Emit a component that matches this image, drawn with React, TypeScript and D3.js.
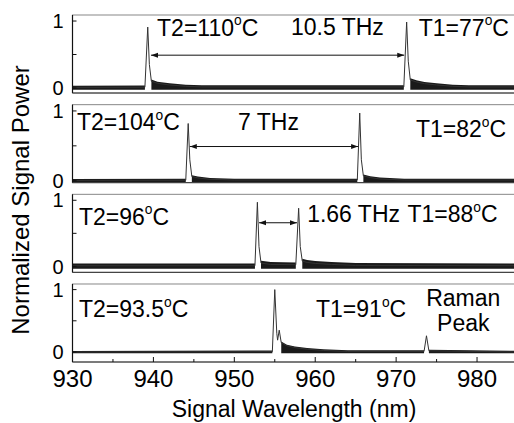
import React from 'react';
import * as d3 from 'd3';

// wavelength axis
const xTicks = [930, 940, 950, 960, 970, 980];
const xMinorTicks = [935, 945, 955, 965, 975];
const yTicks = [0, 0.5, 1];
const yTickLabels = [0, 1];

// bottom of each panel's y domain (top is shared)
const panelYMin = [-0.075, -0.028, -0.09, -0.16];
const panelYMax = 1.09;
const noiseAmp = [0.025, 0.02, 0.035, 0.018];

// spectra, [wavelength nm, normalized power]
const spectrum1 = [[930, 0.01], [938.95, 0.012], [939.3, 0.91], [939.5, 0.35], [939.75, 0.1], [940.5, 0.07], [942, 0.045], [944, 0.025], [946, 0.015], [970.95, 0.015], [971.3, 0.985], [971.5, 0.4], [971.75, 0.12], [972.5, 0.09], [973.5, 0.065], [975, 0.045], [977, 0.025], [979, 0.015], [985, 0.015]];
const spectrum2 = [[930, 0.005], [944.0, 0.008], [944.3, 0.82], [944.5, 0.3], [944.75, 0.06], [945.5, 0.04], [947, 0.02], [950, 0.01], [965.2, 0.01], [965.5, 0.97], [965.7, 0.3], [965.95, 0.07], [966.8, 0.045], [968, 0.025], [971, 0.01], [985, 0.01]];
const spectrum3 = [[930, 0.01], [952.55, 0.01], [952.85, 0.97], [953.05, 0.3], [953.3, 0.05], [954.5, 0.03], [957.6, 0.025], [957.95, 0.88], [958.15, 0.3], [958.4, 0.08], [959, 0.06], [960, 0.045], [962, 0.03], [965, 0.015], [985, 0.01]];
const spectrum4 = [[930, 0.0], [954.7, 0.005], [955.0, 1.0], [955.25, 0.3], [955.35, 0.19], [955.55, 0.35], [955.8, 0.15], [956.5, 0.1], [957.5, 0.07], [959, 0.045], [961, 0.025], [964, 0.01], [973.45, 0.01], [973.75, 0.26], [974.05, 0.02], [985, 0.0]];
const spectra = [spectrum1, spectrum2, spectrum3, spectrum4];

// frequency spacing arrows
const arrows = [
  { panel: 0, from: 939.7, to: 971.0, y: 0.49 },
  { panel: 1, from: 944.5, to: 965.3, y: 0.49 },
  { panel: 2, from: 953.05, to: 957.75, y: 0.66 },
];

const labels = [
  { panel: 0, x: 940.45, y: 0.78, text: 'T2=110°C', anchor: 'start' },
  { panel: 0, x: 957.0, y: 0.79, text: '10.5 THz', anchor: 'start' },
  { panel: 0, x: 972.8, y: 0.78, text: 'T1=77°C', anchor: 'start' },
  { panel: 1, x: 930.55, y: 0.72, text: 'T2=104°C', anchor: 'start' },
  { panel: 1, x: 950.45, y: 0.72, text: '7 THz', anchor: 'start' },
  { panel: 1, x: 972.45, y: 0.62, text: 'T1=82°C', anchor: 'start' },
  { panel: 2, x: 930.8, y: 0.63, text: 'T2=96°C', anchor: 'start' },
  { panel: 2, x: 959.0, y: 0.67, text: '1.66 THz', anchor: 'start' },
  { panel: 2, x: 971.4, y: 0.67, text: 'T1=88°C', anchor: 'start' },
  { panel: 3, x: 930.8, y: 0.56, text: 'T2=93.5°C', anchor: 'start' },
  { panel: 3, x: 960.1, y: 0.56, text: 'T1=91°C', anchor: 'start' },
  { panel: 3, x: 978.3, y: 0.73, text: 'Raman', anchor: 'middle' },
  { panel: 3, x: 978.3, y: 0.34, text: 'Peak', anchor: 'middle' },
];

const W = 514;
const H = 423;
const FONT = '"Liberation Sans", Arial, Helvetica, sans-serif';

function Label({ x, y, text, anchor, size }) {
  const parts = text.split('°');
  if (parts.length === 1) {
    return <text x={x} y={y} textAnchor={anchor} fontSize={size}>{text}</text>;
  }
  return (
    <text x={x} y={y} textAnchor={anchor} fontSize={size}>
      {parts[0]}
      <tspan fontSize={size * 0.6} dy={-size * 0.45}>o</tspan>
      <tspan dy={size * 0.45}>{parts[1]}</tspan>
    </text>
  );
}

export default function App() {
  const x = d3.scaleLinear().domain([930, 985]).range([72.5, 517.5]);
  const band = d3.scaleBand().domain(d3.range(4)).range([15, 362]).paddingInner(0.13);
  const yScales = panelYMin.map((lo, i) =>
    d3.scaleLinear().domain([lo, panelYMax]).range([band(i) + band.bandwidth(), band(i)])
  );
  const plotRight = x.range()[1];

  return (
    <svg width={W} height={H} style={{ position: 'absolute', left: 0, top: 0, background: '#fff' }} fontFamily={FONT}>
      <defs>
        <marker id="ah" viewBox="0 0 10 10" refX="10" refY="5" markerWidth="7" markerHeight="7" orient="auto-start-reverse" markerUnits="userSpaceOnUse">
          <path d="M0,1.5 L10,5 L0,8.5 Z" fill="#111" />
        </marker>
      </defs>
      <rect width={W} height={H} fill="#fff" />

      {spectra.map((data, i) => {
        const y = yScales[i];
        const top = band(i);
        const bottom = top + band.bandwidth();
        const line = d3.line().x(d => x(d[0])).y(d => y(d[1]));
        const noise = d3.area()
          .defined(d => d[1] < 0.2)
          .x(d => x(d[0]))
          .y0(() => y(-noiseAmp[i]))
          .y1(d => y(d[1] + noiseAmp[i]));
        return (
          <g key={i}>
            <clipPath id={`clip${i}`}>
              <rect x={x(930)} y={top} width={plotRight - x(930)} height={band.bandwidth()} />
            </clipPath>
            <g clipPath={`url(#clip${i})`}>
              <path d={noise(data)} fill="#1a1a1a" />
              <path d={line(data)} fill="none" stroke="#333" strokeWidth={1} />
            </g>
            <rect x={x(930)} y={top} width={plotRight - x(930)} height={band.bandwidth()} fill="none" stroke="#888" strokeWidth={1} />
            <line x1={x(930)} x2={x(930)} y1={top} y2={bottom} stroke="#111" strokeWidth={1.2} />
            <line x1={x(930)} x2={plotRight} y1={bottom} y2={bottom} stroke="#333" strokeWidth={1} />
            {yTicks.map(t => (
              <line key={t} x1={x(930)} x2={x(930) + 4} y1={y(t)} y2={y(t)} stroke="#111" />
            ))}
            {yTickLabels.map(t => (
              <text key={t} x={x(930) - 9} y={y(t)} dy="0.36em" textAnchor="end" fontSize={20}>{t}</text>
            ))}
          </g>
        );
      })}

      {arrows.map((a, i) => {
        const y = yScales[a.panel];
        return (
          <line key={i} x1={x(a.from)} x2={x(a.to)} y1={y(a.y)} y2={y(a.y)} stroke="#111" strokeWidth={1}
            markerStart="url(#ah)" markerEnd="url(#ah)" />
        );
      })}

      {labels.map((l, i) => (
        <Label key={i} x={x(l.x)} y={yScales[l.panel](l.y)} text={l.text} anchor={l.anchor} size={23} />
      ))}

      {/* x axis on bottom panel */}
      {(() => {
        const bottom = band(3) + band.bandwidth();
        return (
          <g>
            {xTicks.map(t => (
              <g key={t}>
                <line x1={x(t)} x2={x(t)} y1={bottom} y2={bottom - 5} stroke="#111" />
                <text x={x(t)} y={bottom + 25} textAnchor="middle" fontSize={24}>{t}</text>
              </g>
            ))}
            {xMinorTicks.map(t => (
              <line key={t} x1={x(t)} x2={x(t)} y1={bottom} y2={bottom - 3} stroke="#111" />
            ))}
          </g>
        );
      })()}

      <text x={294} y={417} textAnchor="middle" fontSize={23}>Signal Wavelength (nm)</text>
      <text transform="translate(29,200) rotate(-90)" textAnchor="middle" fontSize={24}>Normalized Signal Power</text>
    </svg>
  );
}
